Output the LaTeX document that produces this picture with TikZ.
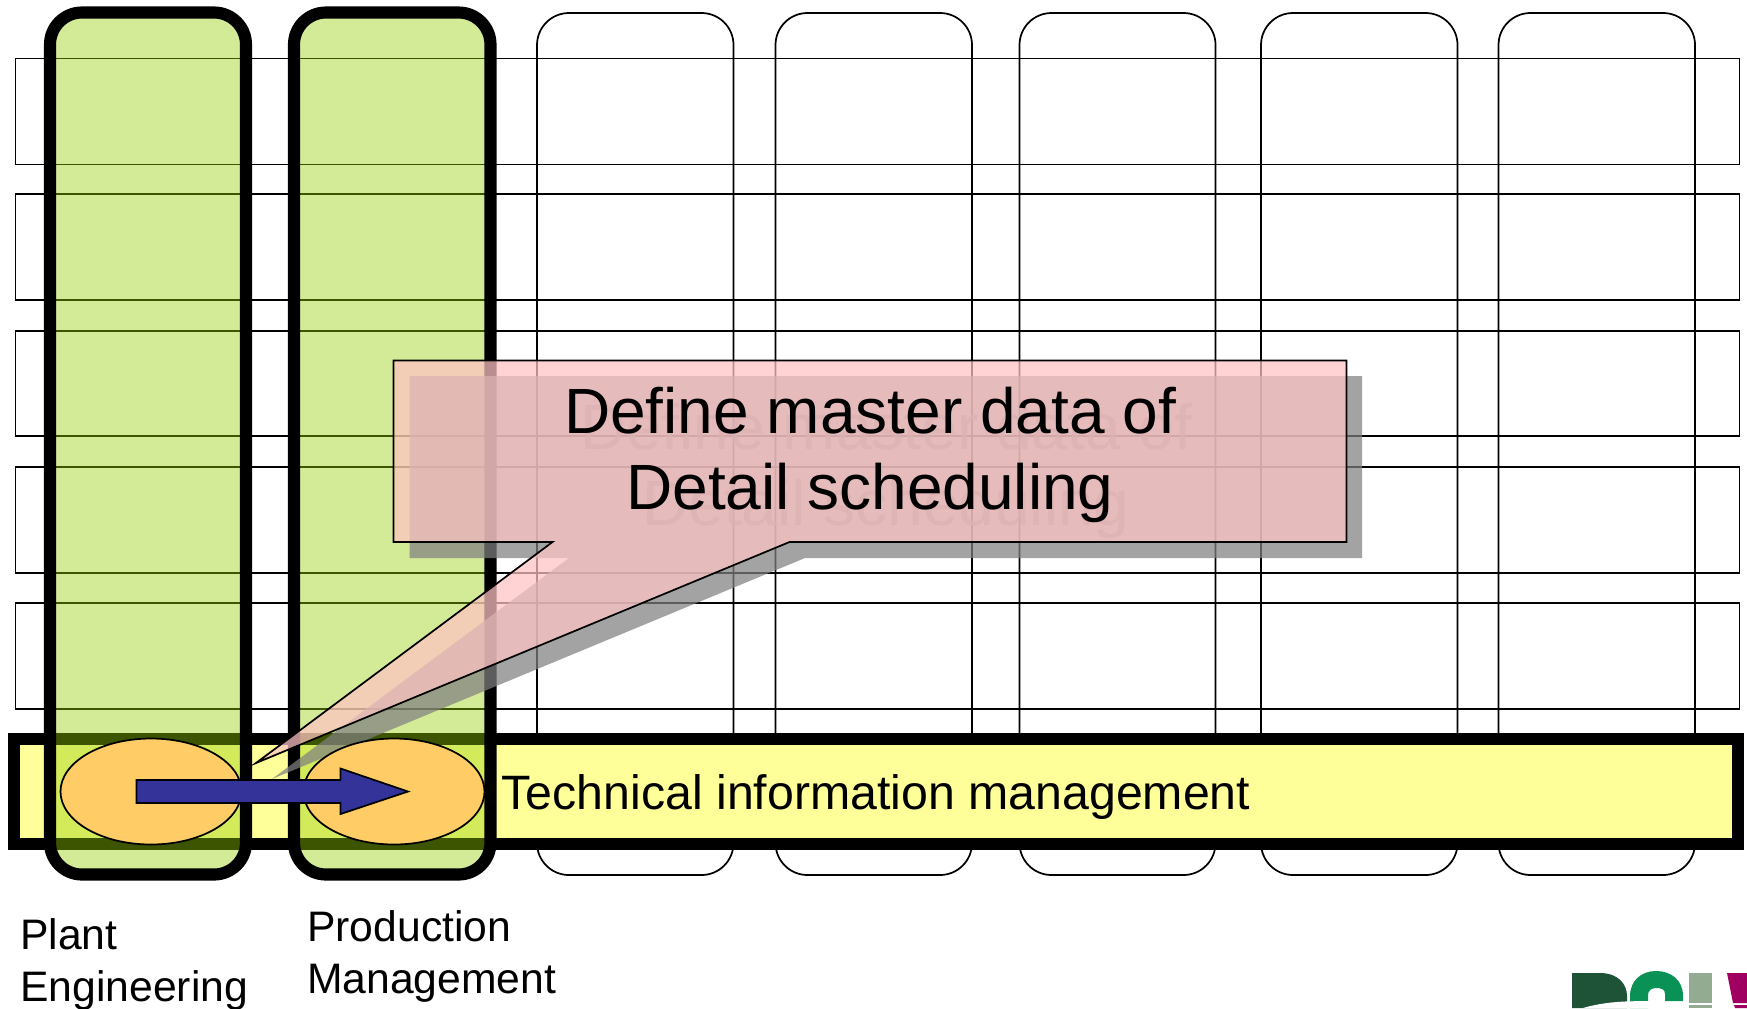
\documentclass[tikz,border=0pt]{standalone}
\usepackage{fontspec}
\setmainfont{Liberation Sans}
\definecolor{colgreen}{rgb}{0.59,0.80,0}
\definecolor{bandyellow}{HTML}{FFFF99}
\definecolor{ovalorange}{HTML}{FFCC66}
\definecolor{arrowblue}{HTML}{333399}
\definecolor{calloutpink}{rgb}{1,0.77,0.77}
\definecolor{logodark}{HTML}{1F5337}
\definecolor{logogreen}{HTML}{0A9155}
\definecolor{logopale}{HTML}{93AB90}
\definecolor{logomag}{HTML}{A0005F}
\tikzset{
  thin line/.style={draw=black,line width=1.3pt},
  rowbox/.style={thin line},
  colbox/.style={thin line,rounded corners=24pt},
  thick line/.style={draw=black,line width=9.1pt},
  greencol/.style={thick line,rounded corners=24pt,fill=colgreen,fill opacity=0.41},
  band/.style={thick line,fill=bandyellow},
  oval/.style={thin line,fill=ovalorange},
  shadowshape/.style={fill=gray,fill opacity=0.72},
  calloutshape/.style={thin line,fill=calloutpink,fill opacity=0.73,line join=miter},
  callouttext/.style={align=center,inner sep=0pt,font=\fontsize{48}{57.6}\selectfont},
  label36/.style={inner sep=0pt,anchor=base west,font=\fontsize{36.2}{43}\selectfont},
  label32/.style={inner sep=0pt,align=left,anchor=west,font=\fontsize{32}{39}\selectfont},
}
\begin{document}
\begin{tikzpicture}[x=0.75pt,y=-0.75pt]
\useasboundingbox (0,0) rectangle (1747,1008);
\clip (0,0) rectangle (1747,1008);
\fill[white] (0,0) rectangle (1747,1008);
% rows
\draw[rowbox] (15.5,58.5) rectangle (1739.5,164.5);
\draw[rowbox] (15.5,194) rectangle (1739.5,300);
\draw[rowbox] (15.5,331) rectangle (1739.5,436);
\draw[rowbox] (15.5,467) rectangle (1739.5,573);
\draw[rowbox] (15.5,603) rectangle (1739.5,709);
% empty columns
\draw[colbox] (537,13) rectangle (733.5,875);
\draw[colbox] (775.5,13) rectangle (972,875);
\draw[colbox] (1019.5,13) rectangle (1215.5,875);
\draw[colbox] (1261,13) rectangle (1457.5,875);
\draw[colbox] (1498.5,13) rectangle (1695,875);
% band
\draw[band] (14.2,739) rectangle (1738,844);
% green columns
\draw[greencol] (50,12.5) rectangle (246,874.5);
\draw[greencol] (294,12.5) rectangle (490.5,874.5);
% callout shadow
\fill[shadowshape] (409.5,376) -- (1362,376) -- (1362,558) -- (805,558) -- (272,779) -- (569,558) -- (409.5,558) -- cycle;
\node[callouttext,text=gray,text opacity=0.72] (ghost) at (886,471) {Define master data of\\Detail scheduling};
% callout
\path[calloutshape] (393.5,360.5) -- (1346.5,360.5) -- (1346.5,542) -- (789.5,542) -- (256,763) -- (552.5,542) -- (393.5,542) -- cycle;
\node[callouttext] (calltext) at (870,455) {Define master data of\\Detail scheduling};
% ovals
\draw[oval] (151,791.5) ellipse [x radius=90.5,y radius=53];
\draw[oval] (394,791.5) ellipse [x radius=90.5,y radius=53];
% arrow
\draw[thin line,fill=arrowblue,line join=miter] (136.5,780) -- (340.5,780) -- (340.5,768.5) -- (408,791.5) -- (340.5,814) -- (340.5,803) -- (136.5,803) -- cycle;
% labels
\node[label36] (tim) at (501.5,809) {Technical information management};
\node[label32] (plant) at (20,964) {Plant\\Engineering};
\node[label32] (prod) at (307,956) {Production\\Management};
% logo
\fill[logodark] (1572,973) -- (1600,973) .. controls (1618,973) and (1627,984) .. (1627,996) -- (1627,1008) -- (1572,1008) -- cycle;
\fill[logogreen] (1630,1008) -- (1630,996) .. controls (1630,980) and (1642,971) .. (1656,971) .. controls (1671,971) and (1683,980) .. (1683,996) -- (1683,1001) -- (1665,1001) -- (1665,994) .. controls (1665,989) and (1661,988) .. (1656,988) .. controls (1651,988) and (1648,991) .. (1648,995) -- (1648,1008) -- cycle;
\fill[white] (1583,1008) .. controls (1610,1000) and (1640,1000) .. (1690,1003) -- (1690,1008) -- cycle;
\fill[logopale] (1689,973) rectangle (1712,1003);
\fill[logopale] (1689,1005) rectangle (1712,1008);
\fill[logomag] (1727,973) -- (1747,973) -- (1747,1003) -- (1733,1003) -- cycle;
\fill[logomag] (1734,1005) -- (1747,1005) -- (1747,1008) -- (1735,1008) -- cycle;
\end{tikzpicture}
\end{document}
